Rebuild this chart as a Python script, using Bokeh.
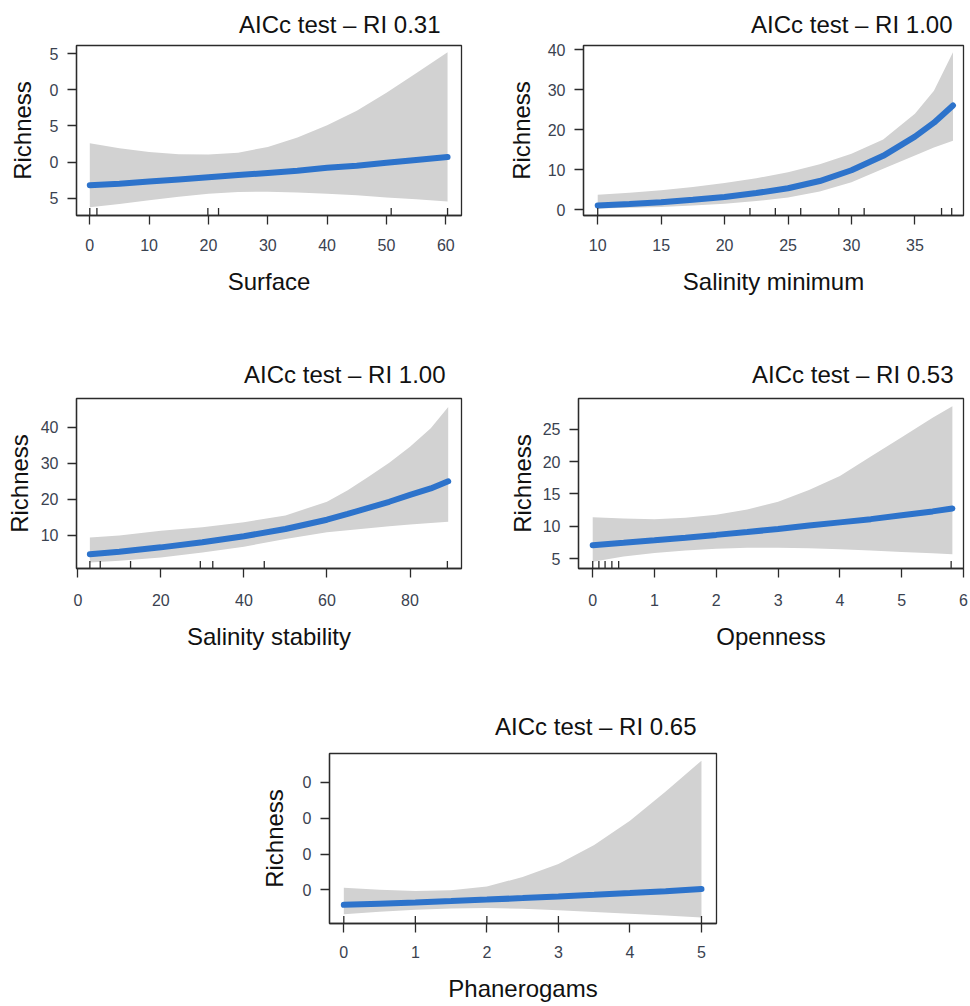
import math
from bokeh.plotting import figure
from bokeh.layouts import column, row
from bokeh.models import Range1d, FixedTicker
from bokeh.embed import file_html
from bokeh.resources import INLINE

# ---------------- data ----------------
surface_x = [0, 5, 10, 15, 20, 25, 30, 35, 40, 45, 50, 55, 60.3]
surface_fit = [6.8, 7.0, 7.3, 7.6, 7.9, 8.2, 8.5, 8.8, 9.2, 9.5, 9.9, 10.3, 10.7]
surface_upper = [12.6, 11.9, 11.4, 11.1, 11.05, 11.3, 12.1, 13.4, 15.1, 17.1, 19.6, 22.3, 25.2]
surface_lower = [3.75, 4.2, 4.7, 5.2, 5.6, 5.85, 5.9, 5.8, 5.6, 5.4, 5.1, 4.85, 4.55]
surface_rug = [0, 1.2, 19.9, 21.7, 50.8, 60.3]
surface_xticks = [0, 10, 20, 30, 40, 50, 60]
surface_yticks = [5, 10, 15, 20, 25]
surface_ylabels = ["5", "0", "5", "0", "5"]

salmin_x = [10, 12.5, 15, 17.5, 20, 22.5, 25, 27.5, 30, 32.5, 35, 36.5, 38]
salmin_fit = [1.1, 1.45, 1.9, 2.5, 3.2, 4.2, 5.4, 7.2, 9.9, 13.5, 18.3, 21.8, 26.1]
salmin_upper = [3.8, 4.3, 4.9, 5.7, 6.7, 7.9, 9.4, 11.4, 14.0, 17.6, 24.0, 29.8, 39.4]
salmin_lower = [0.3, 0.5, 0.7, 1.05, 1.5, 2.2, 3.1, 4.6, 6.9, 10.3, 13.6, 15.6, 17.3]
salmin_rug = [10, 22, 24, 26, 29, 31, 37.1, 37.9]
salmin_xticks = [10, 15, 20, 25, 30, 35]
salmin_yticks = [0, 10, 20, 30, 40]
salmin_ylabels = ["0", "10", "20", "30", "40"]

salstab_x = [2.9, 10, 20, 30, 40, 50, 60, 65, 70, 75, 80, 85, 89.2]
salstab_fit = [4.7, 5.4, 6.6, 8.0, 9.7, 11.7, 14.3, 15.9, 17.6, 19.3, 21.2, 23.0, 25.0]
salstab_upper = [9.35, 9.9, 11.2, 12.2, 13.6, 15.5, 19.3, 22.5, 26.3, 30.2, 34.6, 39.8, 45.7]
salstab_lower = [2.4, 2.9, 3.8, 5.2, 6.8, 8.9, 10.8, 11.4, 11.9, 12.5, 13.0, 13.4, 13.7]
salstab_rug = [2.9, 5.4, 12.7, 29.5, 32.5, 44.9, 89.0]
salstab_xticks = [0, 20, 40, 60, 80]
salstab_yticks = [10, 20, 30, 40]
salstab_ylabels = ["10", "20", "30", "40"]

open_x = [0, 0.5, 1, 1.5, 2, 2.5, 3, 3.5, 4, 4.5, 5, 5.5, 5.82]
open_fit = [7.07, 7.44, 7.82, 8.23, 8.66, 9.1, 9.58, 10.1, 10.6, 11.1, 11.7, 12.3, 12.75]
open_upper = [11.4, 11.2, 11.1, 11.3, 11.8, 12.6, 13.8, 15.6, 17.8, 20.8, 23.8, 26.8, 28.6]
open_lower = [4.5, 5.3, 5.85, 6.25, 6.5, 6.65, 6.65, 6.6, 6.45, 6.25, 6.0, 5.8, 5.67]
open_rug = [0, 0.1, 0.2, 0.31, 0.42, 5.8]
open_xticks = [0, 1, 2, 3, 4, 5, 6]
open_yticks = [5, 10, 15, 20, 25]
open_ylabels = ["5", "10", "15", "20", "25"]

phan_x = [0, 0.5, 1, 1.5, 2, 2.5, 3, 3.5, 4, 4.5, 5]
phan_fit = [5.8, 6.14, 6.49, 6.87, 7.27, 7.69, 8.13, 8.6, 9.1, 9.63, 10.2]
phan_upper = [10.6, 10.0, 9.7, 9.9, 10.9, 13.6, 17.2, 22.5, 29.3, 37.5, 46.1]
phan_lower = [3.2, 3.9, 4.4, 4.8, 4.9, 4.7, 4.3, 3.8, 3.3, 2.8, 2.3]
phan_rug = [0, 1, 2, 3, 5]
phan_xticks = [0, 1, 2, 3, 4, 5]
phan_yticks = [10, 20, 30, 40]
phan_ylabels = ["0", "0", "0", "0"]

titles = ["AICc test \u2013 RI 0.31", "AICc test \u2013 RI 1.00", "AICc test \u2013 RI 1.00",
          "AICc test \u2013 RI 0.53", "AICc test \u2013 RI 0.65"]

# ---------------- styling ----------------
FONT = "Liberation Sans"
BAND = "#d2d2d2"
LINE = "#2d73cb"
AX = "#2b2b2b"
TICKLAB = "#3a4250"


def panel(x, fit, lower, upper, rug, xticks, yticks, ylabels, xr, yr,
          title, xlabel, width, height, bl, br, bt, bb, toff, tstand, ystand,
          xlstand=14, xastand=14):
    p = figure(width=width, height=height, x_range=Range1d(*xr), y_range=Range1d(*yr),
               output_backend="svg", toolbar_location=None,
               min_border_left=bl, min_border_right=br, min_border_top=bt, min_border_bottom=bb)
    p.grid.visible = False
    p.outline_line_color = AX
    p.outline_line_width = 1.3
    p.outline_line_alpha = 1.0

    p.varea(x=x, y1=lower, y2=upper, fill_color=BAND)
    p.line(x=x, y=fit, line_width=6, line_color=LINE, line_cap="round")
    p.scatter(x=rug, y=[yr[0]] * len(rug), marker="dash", angle=math.pi / 2, size=15,
              line_color=AX, line_width=1.3)

    p.xaxis.ticker = FixedTicker(ticks=xticks)
    p.yaxis.ticker = FixedTicker(ticks=yticks)
    p.yaxis.major_label_overrides = {t: s for t, s in zip(yticks, ylabels)}
    for ax in (p.xaxis, p.yaxis):
        ax.axis_line_color = AX
        ax.axis_line_width = 1.3
        ax.major_tick_line_color = AX
        ax.major_tick_line_width = 1.3
        ax.major_tick_in = 0
        ax.major_tick_out = 9
        ax.minor_tick_line_color = None
        ax.major_label_text_font = FONT
        ax.major_label_text_font_size = "16px"
        ax.major_label_text_color = TICKLAB
        ax.axis_label_text_font = FONT
        ax.axis_label_text_font_size = "24px"
        ax.axis_label_text_font_style = "normal"
        ax.axis_label_text_color = "#111111"
    p.xaxis.major_label_standoff = xlstand
    p.yaxis.major_label_standoff = 9
    p.xaxis.axis_label = xlabel
    p.xaxis.axis_label_standoff = xastand
    p.yaxis.axis_label = "Richness"
    p.yaxis.axis_label_standoff = ystand

    p.title.text = title
    p.title.align = "right"
    p.title.offset = toff
    p.title.standoff = tstand
    p.title.text_font = FONT
    p.title.text_font_size = "24px"
    p.title.text_font_style = "normal"
    p.title.text_color = "#111111"
    return p


# page has no body margin: frames placed at absolute page positions
p1 = panel(surface_x, surface_fit, surface_lower, surface_upper, surface_rug,
           surface_xticks, surface_yticks, surface_ylabels, (-2.24, 62.65), (2.6, 26.15),
           titles[0], "Surface", 76 + 385 + 43, 345, 76, 43, 45, 130, 21, 16, 11)
p2 = panel(salmin_x, salmin_fit, salmin_lower, salmin_upper, salmin_rug,
           salmin_xticks, salmin_yticks, salmin_ylabels, (8.88, 38.83), (-1.42, 41.1),
           titles[1], "Salinity minimum", 74 + 385 + 5, 345, 74, 5, 45, 130, 11, 16, 10)
p3 = panel(salstab_x, salstab_fit, salstab_lower, salstab_upper, salstab_rug,
           salstab_xticks, salstab_yticks, salstab_ylabels, (-0.32, 92.4), (0.71, 48.07),
           titles[2], "Salinity stability", 76 + 385 + 43, 351, 76, 43, 53, 128, 16, 22, 5,
           xlstand=16, xastand=14)
p4 = panel(open_x, open_fit, open_lower, open_upper, open_rug,
           open_xticks, open_yticks, open_ylabels, (-0.23, 6.0), (3.45, 29.8),
           titles[3], "Openness", 74 + 385 + 5, 351, 74, 5, 53, 128, 10, 22, 4,
           xlstand=16, xastand=14)
p5 = panel(phan_x, phan_fit, phan_lower, phan_upper, phan_rug,
           phan_xticks, phan_yticks, phan_ylabels, (-0.2, 5.21), (0.59, 48.1),
           titles[4], "Phanerogams", 329 + 387 + 40, 309, 329, 40, 57, 82, 20, 27, 12,
           xlstand=13, xastand=14)

layout = column(row(p1, p2), row(p3, p4), p5)
open("out.html", "w").write(file_html(layout, INLINE))
